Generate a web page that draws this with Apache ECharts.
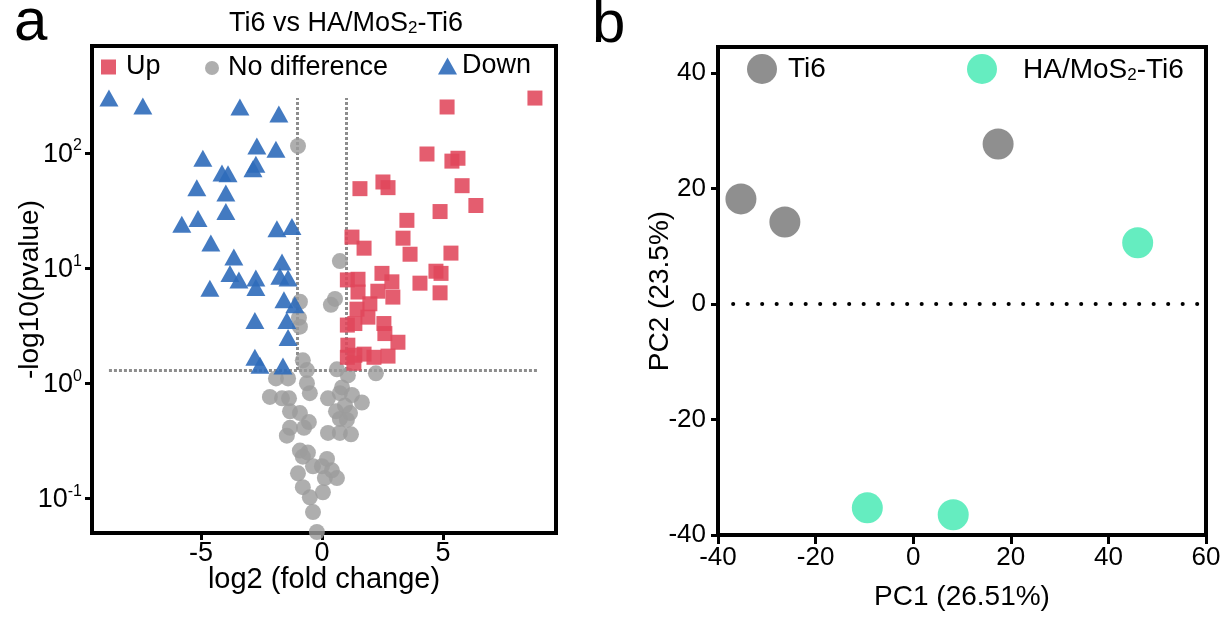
<!DOCTYPE html>
<html><head><meta charset="utf-8">
<script src="https://cdn.jsdelivr.net/npm/echarts@6/dist/echarts.min.js"></script>
<style>html,body{margin:0;padding:0;background:#fff}#c{width:1231px;height:617px}</style>
</head><body><div id="c"></div>
<script>
// ---------- Panel a: volcano plot  [log2 fold change, -log10(pvalue)] ----------
const downPoints = [[-8.80,300],[-7.40,256],[-3.39,251],[-1.78,218],[-2.69,115],[-1.90,108],[-4.92,90],[-2.73,80],[-2.85,73],[-4.13,67],[-3.88,66],[-5.17,50],[-3.97,45],[-3.97,31],[-5.79,24],[-5.12,27],[-1.86,22],[-1.24,23],[-4.59,16.5],[-3.64,12.5],[-1.65,11.3],[-3.80,9.0],[-3.43,7.9],[-2.73,8.2],[-2.73,6.8],[-1.74,8.5],[-1.40,8.2],[-4.63,6.7],[-1.57,5.3],[-1.12,4.8],[-2.77,3.5],[-1.45,3.5],[-1.40,2.5],[-2.77,1.68],[-2.56,1.43],[-1.61,1.41]];
const upPoints = [[8.80,300],[5.17,251],[4.34,98],[5.37,85],[5.62,90],[5.79,52],[6.36,35],[2.52,56],[2.73,50],[1.57,49],[4.88,31],[3.51,26],[1.24,18.6],[3.35,18.2],[1.74,14.9],[3.64,13.2],[5.33,13.5],[4.71,9.4],[4.92,9.0],[2.48,9.0],[2.89,7.6],[1.05,7.9],[1.49,8.0],[4.05,7.4],[4.88,6.1],[1.49,6.2],[2.31,6.3],[2.93,5.6],[1.98,4.9],[1.45,4.4],[1.90,3.75],[1.05,3.2],[1.36,3.3],[2.56,3.3],[2.60,2.7],[3.14,2.27],[1.07,2.14],[1.05,1.68],[1.36,1.75],[1.74,1.79],[2.15,1.68],[2.73,1.72],[1.32,1.49]];
const noDiffPoints = [[-0.99,115],[0.74,11.5],[0.54,5.4],[0.37,4.8],[-0.91,5.1],[-0.95,3.7],[-0.91,3.1],[-0.79,1.58],[-0.62,1.30],[0.62,1.32],[1.07,1.17],[2.23,1.22],[-1.90,1.10],[-1.40,1.10],[-0.62,1.0],[0.83,0.92],[-0.50,0.82],[-2.15,0.76],[-1.65,0.74],[-1.36,0.74],[0.25,0.74],[0.74,0.82],[1.24,0.79],[1.65,0.68],[0.95,0.64],[-1.32,0.57],[-0.91,0.55],[0.58,0.57],[1.16,0.55],[0.74,0.49],[1.03,0.48],[-0.54,0.46],[-1.32,0.41],[-0.74,0.41],[-1.45,0.35],[0.25,0.37],[0.74,0.37],[1.20,0.36],[-0.91,0.26],[-0.58,0.25],[-0.79,0.23],[0.21,0.22],[-0.37,0.19],[0.0,0.19],[0.41,0.175],[-0.99,0.165],[0.12,0.15],[0.62,0.15],[-0.79,0.125],[0.04,0.113],[-0.50,0.102],[-0.37,0.076],[-0.21,0.051]];
const volcanoXTicks = [-5, 0, 5];
const volcanoYTicks = [0.1, 1, 10, 100];
const fcThreshold = 1;          // |log2 FC| cut-off
const pThreshold = 1.3;         // -log10(0.05)
const vLineTop = 300;
const hLineRange = [-8.8, 8.9];

// ---------- Panel b: PCA ----------
const ti6PCA = [[-35.3,18.2],[-26.3,14.2],[17.4,27.7]];
const haPCA  = [[46.0,10.6],[-9.4,-35.3],[8.2,-36.5]];
const pcaXTicks = [-40,-20,0,20,40,60];
const pcaYTicks = [-40,-20,0,20,40];
const pcaZeroLine = [-36.9, 60];

const FF = "'Liberation Sans', Arial, sans-serif";
const BLACK = '#000';
const axisLineStyle = {show:true, onZero:false, lineStyle:{color:BLACK, width:4}};
const tickStyle = (vals, len) => ({show:true, length:len, inside:false, lineStyle:{color:BLACK, width:3}, customValues: vals});

const chart = echarts.init(document.getElementById('c'), null, {renderer:'canvas'});
const option = {
  animation:false,
  backgroundColor:'#fff',
  textStyle:{fontFamily:FF},
  title:[{
    text:'{t|Ti6 vs HA/MoS}{u|2}{t|-Ti6}',
    left:341, top:2, textAlign:'center',
    textStyle:{fontWeight:'normal', rich:{
      t:{fontSize:27, fontWeight:'normal', fontFamily:FF, color:BLACK, lineHeight:30, verticalAlign:'bottom'},
      u:{fontSize:17, fontWeight:'normal', fontFamily:FF, color:BLACK, lineHeight:20, verticalAlign:'bottom'}
    }}
  }],
  graphic:[
    {type:'text', x:14, y:23, style:{text:'a', fontSize:60, fontFamily:FF, fill:BLACK, align:'left', verticalAlign:'middle'}},
    {type:'text', x:592, y:25, style:{text:'b', fontSize:60, fontFamily:FF, fill:BLACK, align:'left', verticalAlign:'middle'}}
  ],
  legend:[
    {data:['Up'], left:101, top:52, padding:0, icon:'rect', itemWidth:15, itemHeight:15, selectedMode:false,
     textStyle:{fontSize:27, color:BLACK, fontFamily:FF, lineHeight:30, padding:[0,0,0,5]}},
    {data:['No difference'], left:205, top:53, padding:0, icon:'circle', itemWidth:14, itemHeight:14, selectedMode:false,
     textStyle:{fontSize:27, color:BLACK, fontFamily:FF, lineHeight:30, padding:[0,0,0,4]}},
    {data:['Down'], left:438, top:51, padding:0, icon:'triangle', itemWidth:19, itemHeight:17, selectedMode:false,
     textStyle:{fontSize:27, color:BLACK, fontFamily:FF, lineHeight:30, padding:[0,0,0,0]}},
    {data:['Ti6'], left:747, top:54, padding:0, icon:'circle', itemWidth:30, itemHeight:30, selectedMode:false,
     textStyle:{fontSize:28, color:BLACK, fontFamily:FF, lineHeight:30, padding:[0,0,0,6]}},
    {data:['HA/MoS2-Ti6'], left:967, top:54, padding:0, icon:'circle', itemWidth:30, itemHeight:30, selectedMode:false,
     formatter:()=>'{t|HA/MoS}{u|2}{t|-Ti6}',
     textStyle:{padding:[0,0,0,21], rich:{
       t:{fontSize:28, fontFamily:FF, color:BLACK, lineHeight:30, verticalAlign:'bottom'},
       u:{fontSize:17, fontFamily:FF, color:BLACK, lineHeight:21, verticalAlign:'bottom'}
     }}}
  ],
  grid:[
    {left:92, top:46, width:464, height:487, show:true, borderColor:BLACK, borderWidth:4, backgroundColor:'transparent', outerBoundsMode:'none', containLabel:false},
    {left:718, top:47, width:488, height:488, show:true, borderColor:BLACK, borderWidth:4, backgroundColor:'transparent', outerBoundsMode:'none', containLabel:false}
  ],
  xAxis:[
    {gridIndex:0, type:'value', min:-9.5, max:9.67, axisLine:axisLineStyle, axisTick:tickStyle(volcanoXTicks,7),
     splitLine:{show:false},
     axisLabel:{customValues:volcanoXTicks, fontSize:27, color:BLACK, fontFamily:FF, margin:7},
     name:'log2 (fold change)', nameLocation:'middle', nameGap:32, nameMoveOverlap:false,
     nameTextStyle:{fontSize:29, color:BLACK, fontFamily:FF}},
    {gridIndex:1, type:'value', min:-40, max:60, interval:20, axisLine:axisLineStyle, axisTick:tickStyle(pcaXTicks,9),
     splitLine:{show:false},
     axisLabel:{customValues:pcaXTicks, fontSize:26, color:BLACK, fontFamily:FF, margin:10},
     name:'PC1 (26.51%)', nameLocation:'middle', nameGap:48, nameMoveOverlap:false,
     nameTextStyle:{fontSize:28, color:BLACK, fontFamily:FF}}
  ],
  yAxis:[
    {gridIndex:0, type:'log', logBase:10, min:0.05, max:850, axisLine:axisLineStyle, axisTick:tickStyle(volcanoYTicks,7),
     splitLine:{show:false}, minorTick:{show:false},
     axisLabel:{customValues:volcanoYTicks, margin:10, showMinLabel:true, showMaxLabel:true,
       formatter:(v)=>'{b|10}{s|' + Math.round(Math.log10(v)) + '}',
       rich:{
         b:{fontSize:27, fontFamily:FF, color:BLACK, lineHeight:30, verticalAlign:'bottom'},
         s:{fontSize:16, fontFamily:FF, color:BLACK, lineHeight:14, verticalAlign:'top'}
       }},
     name:'-log10(pvalue)', nameLocation:'middle', nameGap:48, nameRotate:90, nameMoveOverlap:false,
     nameTextStyle:{fontSize:28, color:BLACK, fontFamily:FF}},
    {gridIndex:1, type:'value', min:-40, max:44.5, axisLine:axisLineStyle, axisTick:tickStyle(pcaYTicks,7),
     splitLine:{show:false},
     axisLabel:{customValues:pcaYTicks, fontSize:26, color:BLACK, fontFamily:FF, margin:12},
     name:'PC2 (23.5%)', nameLocation:'middle', nameGap:44, nameRotate:90, nameMoveOverlap:false,
     nameTextStyle:{fontSize:28, color:BLACK, fontFamily:FF}}
  ],
  series:[
    {type:'scatter', name:'No difference', xAxisIndex:0, yAxisIndex:0, data:noDiffPoints, symbol:'circle', symbolSize:16,
     itemStyle:{color:'#9c9c9c', opacity:0.82}, z:3, silent:true,
     markLine:{silent:true, z:1, symbol:['none','none'], label:{show:false}, animation:false,
       lineStyle:{color:'#8d8d8d', width:3, type:[3,2]},
       emphasis:{disabled:true},
       data:[
         [{coord:[-fcThreshold, pThreshold]},{coord:[-fcThreshold, vLineTop]}],
         [{coord:[fcThreshold, pThreshold]},{coord:[fcThreshold, vLineTop]}],
         [{coord:[hLineRange[0], pThreshold]},{coord:[hLineRange[1], pThreshold]}]
       ]}},
    {type:'scatter', name:'Up', xAxisIndex:0, yAxisIndex:0, data:upPoints, symbol:'rect', symbolSize:15,
     itemStyle:{color:'#e0475b', opacity:0.88}, z:4, silent:true},
    {type:'scatter', name:'Down', xAxisIndex:0, yAxisIndex:0, data:downPoints, symbol:'triangle', symbolSize:[19,17],
     itemStyle:{color:'#2f6cba', opacity:0.9}, z:5, silent:true},
    {type:'scatter', name:'Ti6', xAxisIndex:1, yAxisIndex:1, data:ti6PCA, symbol:'circle', symbolSize:31,
     itemStyle:{color:'#737373'}, z:4, silent:true,
     markLine:{silent:true, z:2, symbol:['none','none'], label:{show:false}, animation:false,
       lineStyle:{color:BLACK, width:4, type:[0.1,14.4], cap:'round'},
       emphasis:{disabled:true},
       data:[[{coord:[pcaZeroLine[0],0]},{coord:[pcaZeroLine[1],0]}]]}},
    {type:'scatter', name:'HA/MoS2-Ti6', xAxisIndex:1, yAxisIndex:1, data:haPCA, symbol:'circle', symbolSize:31,
     itemStyle:{color:'#3fe8b0'}, z:4, silent:true}
  ]
};
chart.setOption(option);
</script></body></html>
